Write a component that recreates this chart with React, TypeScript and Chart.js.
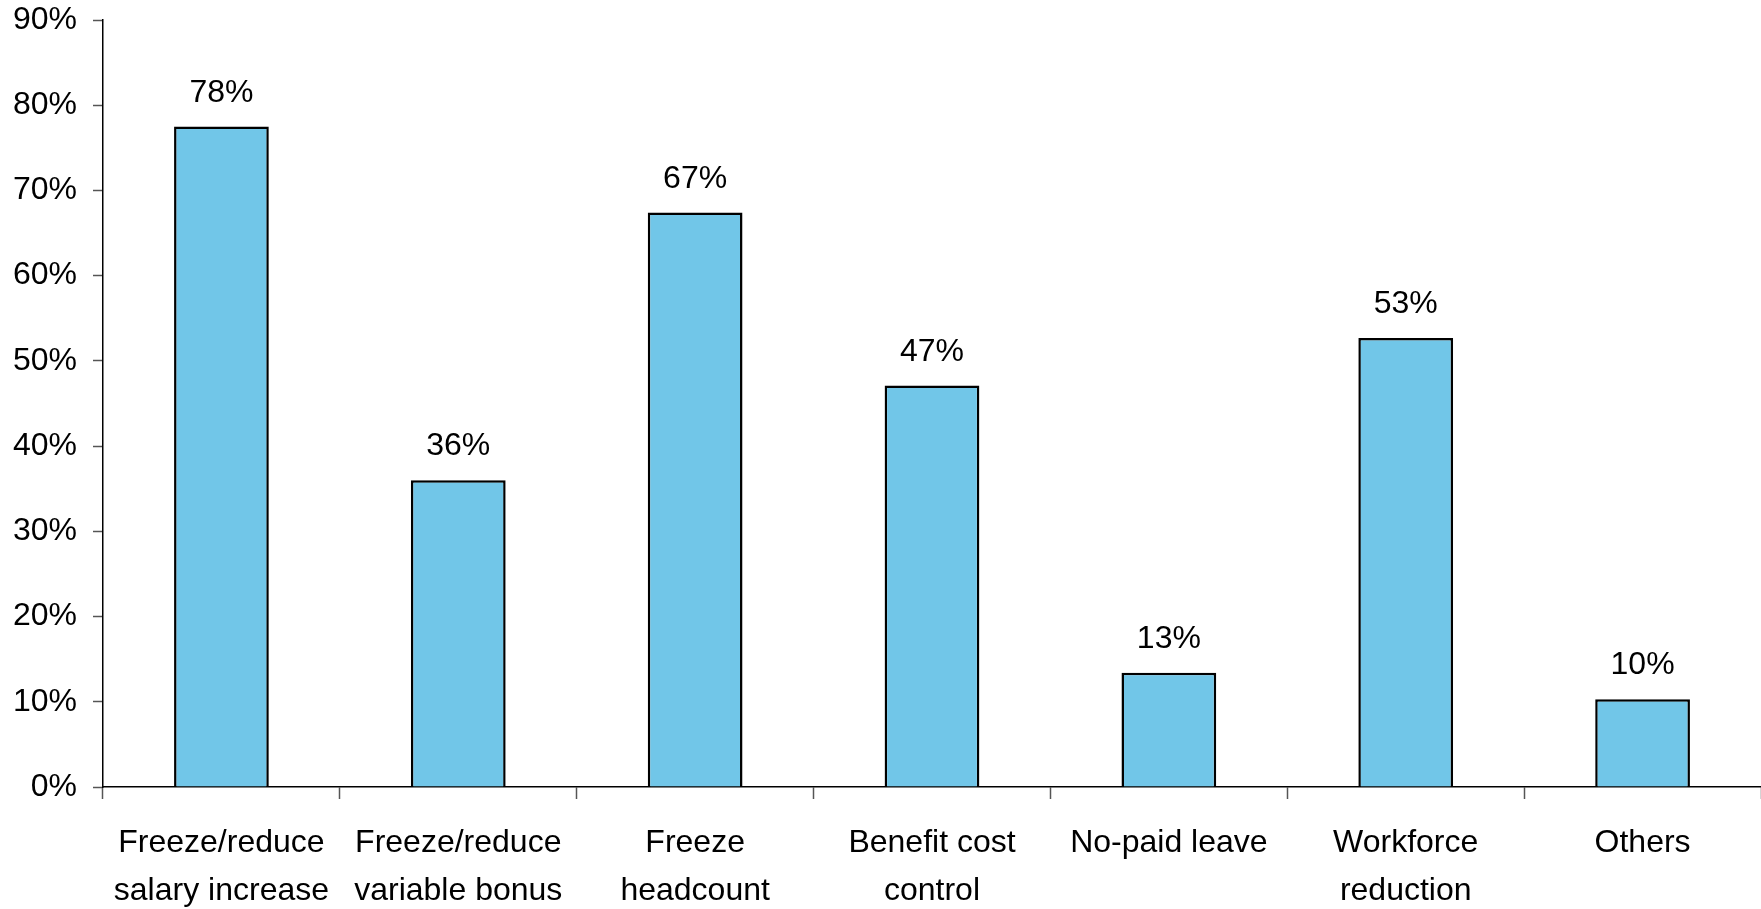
import React, { useEffect, useRef } from "react";
import { Chart, registerables } from "chart.js";

Chart.register(...registerables);

// Cost-control measures and share of respondents (%)
const categories: (string | string[])[] = [
  ["Freeze/reduce", "salary increase"],
  ["Freeze/reduce", "variable bonus"],
  ["Freeze", "headcount"],
  ["Benefit cost", "control"],
  "No-paid leave",
  ["Workforce", "reduction"],
  "Others",
];
const shares: number[] = [77.5, 36.0, 67.4, 47.1, 13.4, 52.7, 10.3];
const yTicks: number[] = [0, 10, 20, 30, 40, 50, 60, 70, 80, 90];

const FONT_FAMILY = '"Liberation Sans", Arial, sans-serif';
const FONT_SIZE = 32;
const BAR_FILL = "rgb(113, 198, 232)";

const valueLabels = {
  id: "valueLabels",
  afterDatasetsDraw(chart: any) {
    const { ctx } = chart;
    const meta = chart.getDatasetMeta(0);
    const data = chart.data.datasets[0].data as number[];
    ctx.save();
    ctx.font = `${FONT_SIZE}px ${FONT_FAMILY}`;
    ctx.fillStyle = "#000";
    ctx.textAlign = "center";
    ctx.textBaseline = "alphabetic";
    meta.data.forEach((bar: any, i: number) => {
      ctx.fillText(`${Math.round(data[i])}%`, bar.x, bar.y - 25);
    });
    ctx.restore();
  },
};

export default function App() {
  const canvasRef = useRef<HTMLCanvasElement | null>(null);

  useEffect(() => {
    document.body.style.margin = "0";
    const canvas = canvasRef.current;
    if (!canvas) return;
    const chart = new Chart(canvas, {
      type: "bar",
      data: {
        labels: categories,
        datasets: [
          {
            data: shares,
            backgroundColor: BAR_FILL,
            borderColor: "#000",
            borderWidth: 2.5,
            borderSkipped: "bottom",
            barPercentage: 0.4,
            categoryPercentage: 1,
          },
        ],
      },
      options: {
        responsive: false,
        animation: false,
        maintainAspectRatio: false,
        layout: { padding: 0 },
        plugins: {
          legend: { display: false },
          tooltip: { enabled: false },
          title: { display: false },
        },
        scales: {
          x: {
            offset: true,
            grid: {
              offset: true,
              drawOnChartArea: false,
              drawTicks: true,
              tickLength: 12,
              tickColor: "#555",
              tickWidth: 1.5,
            },
            border: { display: true, color: "#000", width: 1.5 },
            ticks: {
              color: "#000",
              padding: 20,
              maxRotation: 0,
              autoSkip: false,
              font: { family: FONT_FAMILY, size: FONT_SIZE, lineHeight: 1.5 },
            },
            afterFit: (scale: any) => {
              scale.height = 122;
              scale.paddingLeft = 0;
              scale.paddingRight = 0;
            },
          },
          y: {
            min: 0,
            max: 90,
            afterBuildTicks: (scale: any) => {
              scale.ticks = yTicks.map((v) => ({ value: v }));
            },
            grid: {
              drawOnChartArea: false,
              drawTicks: true,
              tickLength: 10,
              tickColor: "#555",
              tickWidth: 1.5,
            },
            border: { display: true, color: "#000", width: 1.5 },
            ticks: {
              color: "#000",
              padding: 16,
              callback: (v: any) => `${v}%`,
              font: { family: FONT_FAMILY, size: FONT_SIZE, lineHeight: 1 },
            },
            afterFit: (scale: any) => {
              scale.width = 103;
              scale.paddingTop = 20;
              scale.paddingBottom = 0;
            },
          },
        },
      },
      plugins: [valueLabels],
    });
    return () => chart.destroy();
  }, []);

  return (
    <div style={{ position: "fixed", left: 0, top: 0, width: 1761, height: 909, background: "#fff" }}>
      <canvas ref={canvasRef} width={1761} height={909} style={{ display: "block" }} />
    </div>
  );
}
